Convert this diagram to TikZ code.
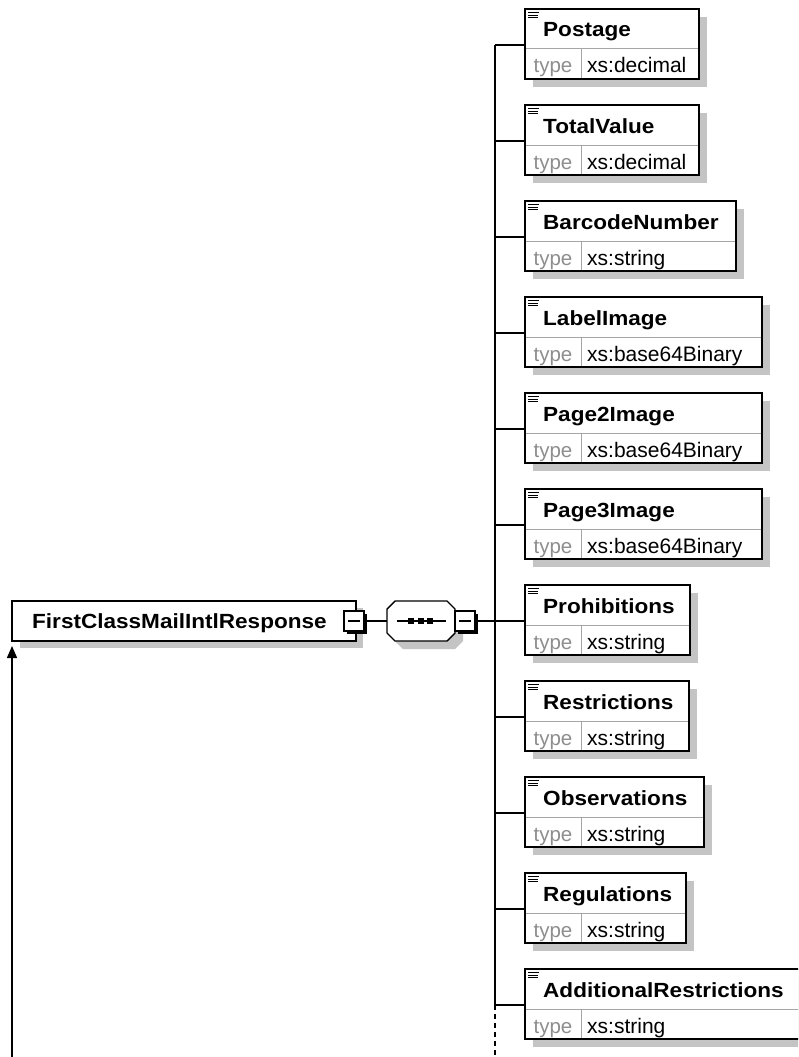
\documentclass[tikz,border=0pt]{standalone}
\usepackage{fontspec}
\setmainfont{Liberation Sans}
\newfontfamily\titlefont{Liberation Sans}[FakeStretch=1.1]
\usetikzlibrary{arrows.meta}
\definecolor{shadowgray}{HTML}{C4C4C4}
\definecolor{divgray}{HTML}{A6A6A6}
\definecolor{typegray}{HTML}{8E8E8E}
\tikzset{
  conn/.style={draw=black, line width=1.5pt},
  elembox/.style={draw=black, line width=1.6pt, fill=white, inner sep=0pt, outer sep=0pt, anchor=north west, minimum height=70pt},
  rootbox/.style={draw=black, line width=1.6pt, fill=white, inner sep=0pt, outer sep=0pt, anchor=north west, minimum height=40pt},
  divline/.style={draw=divgray, line width=1pt},
  titletext/.style={anchor=base west, inner sep=0pt, font=\titlefont\bfseries\fontsize{20.5}{24}\selectfont},
  typelabel/.style={anchor=base, inner sep=0pt, text=typegray, font=\fontsize{20.5}{24}\selectfont},
  typevalue/.style={anchor=base west, inner sep=0pt, font=\fontsize{21}{24}\selectfont},
  btn/.style={draw=black, line width=1.2pt, fill=white, minimum size=20pt, inner sep=0pt, outer sep=0pt, anchor=north west},
}
\newcommand\xelem[5]{% name, top, right, title, type
  \fill[shadowgray] (533,#2+8) rectangle (#3+8,#2+78);
  \node[elembox, minimum width=#3-525] (#1) at (525,#2) {};
  \draw[divline] (525.8,#2+40) -- (#3-0.8,#2+40);
  \draw[divline] (581,#2+40) -- (581,#2+69.2);
  \draw[line width=1.1pt] (528,#2+3.5) -- (539,#2+3.5) (528,#2+6.2) -- (538,#2+6.2) (528,#2+8.9) -- (538,#2+8.9);
  \node[titletext] (#1-title) at (543,#2+28) {#4};
  \node[typelabel] (#1-tl) at (553,#2+64) {type};
  \node[typevalue] (#1-tv) at (587,#2+64) {#5};
  \coordinate (#1-j) at (495,#2+36);
  \draw[conn] (#1-j) -- (#1-j -| #1.west);
}
\newcommand\minusbtn[3]{% name, left, top
  \fill[black] (#2+3,#3+3) rectangle (#2+23,#3+23);
  \node[btn] (#1) at (#2,#3) {};
  \draw[line width=1.2pt] ([xshift=4pt]#1.west) -- ([xshift=-4pt]#1.east);
}
\begin{document}
\begin{tikzpicture}[x=1pt,y=-1pt]
\useasboundingbox (0,0) rectangle (798,1057);
\clip (0,0) rectangle (798,1057);
\fill[white] (0,0) rectangle (798,1057);

% elements
\xelem{Postage}{9}{699}{Postage}{xs:decimal}
\xelem{TotalValue}{105}{699}{TotalValue}{xs:decimal}
\xelem{BarcodeNumber}{201}{736}{BarcodeNumber}{xs:string}
\xelem{LabelImage}{297}{762}{LabelImage}{xs:base64Binary}
\xelem{PageTwoImage}{393}{762}{Page2Image}{xs:base64Binary}
\xelem{PageThreeImage}{489}{762}{Page3Image}{xs:base64Binary}
\xelem{Prohibitions}{585}{690}{Prohibitions}{xs:string}
\xelem{Restrictions}{681}{689}{Restrictions}{xs:string}
\xelem{Observations}{777}{704}{Observations}{xs:string}
\xelem{Regulations}{873}{686}{Regulations}{xs:string}
\xelem{AdditionalRestrictions}{969}{812}{AdditionalRestrictions}{xs:string}

% spine
\coordinate (spineend) at (495,1057);
\draw[conn] (Postage-j) -- (AdditionalRestrictions-j);
\draw[conn, dash pattern=on 5pt off 4pt] (AdditionalRestrictions-j) -- (spineend);

% root element
\fill[shadowgray] (20,608) rectangle (363,648);
\node[rootbox, minimum width=344] (root) at (12,601) {};
\node[titletext] (root-title) at (32,628) {FirstClassMailIntlResponse};
\minusbtn{rm}{344}{611}

% sequence compositor
\fill[shadowgray] (395,609) -- (403,609) -- (455,609) -- (463,617) -- (463,641) -- (455,649) -- (403,649) -- (395,641) -- cycle;
\filldraw[fill=white, draw=black, line width=1.4pt] (387,609) -- (395,601) -- (447,601) -- (455,609) -- (455,633) -- (447,641) -- (395,641) -- (387,633) -- cycle;
\node[inner sep=0pt, outer sep=0pt, minimum width=68pt, minimum height=40pt, anchor=north west] (seq) at (387,601) {};
\draw[line width=1.2pt] (397,621) -- (446,621);
\fill (408,618) rectangle (414,624);
\fill (417.5,618) rectangle (423.5,624);
\fill (427,618) rectangle (433,624);
\minusbtn{sm}{455}{611}

\draw[conn] (rm.east) -- (seq.west);
\draw[conn] (sm.east) -- (Prohibitions-j);

% recursion arrow
\coordinate (arrowstart) at (12,1057);
\draw[conn, -{Triangle[width=10pt,length=12pt]}] (arrowstart) -- ([yshift=-5pt]root.south west);
\end{tikzpicture}
\end{document}
